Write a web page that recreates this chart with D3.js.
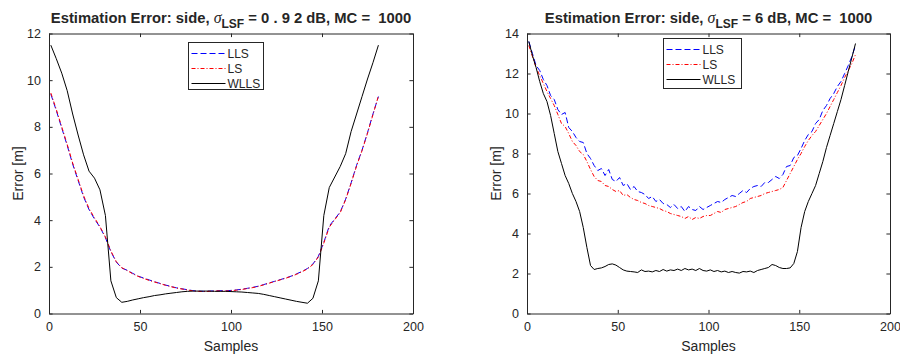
<!DOCTYPE html>
<html>
<head>
<meta charset="utf-8">
<script src="https://cdn.jsdelivr.net/npm/d3@7"></script>
<style>
  html, body { margin: 0; padding: 0; background: #fff; }
  svg { display: block; }
  text { font-family: "Liberation Sans", Arial, Helvetica, sans-serif; fill: #262626; white-space: pre; }
</style>
</head>
<body>
<svg id="chart" width="900" height="358"></svg>
<script>
// ---------------- DATA ----------------
const seriesNames = ["LLS", "LS", "WLLS"];
const xTicks = [0, 50, 100, 150, 200];
const yTicksLeft = [0, 2, 4, 6, 8, 10, 12];
const yTicksRight = [0, 2, 4, 6, 8, 10, 12, 14];

// Left panel: samples 1..181 every 3rd sample
const samplesLeft = d3.range(1, 182, 3);
const llsLeft = [9.40, 8.70, 7.95, 7.20, 6.40, 5.70, 5.00, 4.45, 4.05, 3.70, 3.25, 2.65, 2.20, 1.95, 1.85, 1.72, 1.60, 1.52, 1.44, 1.36,
  1.29, 1.22, 1.16, 1.10, 1.06, 1.02, 0.98, 0.96, 0.95, 0.96, 0.97, 0.98, 0.97, 0.99, 1.01, 1.04, 1.08, 1.12, 1.17, 1.24,
  1.31, 1.38, 1.45, 1.52, 1.60, 1.70, 1.80, 1.93, 2.12, 2.45, 3.05, 3.75, 4.05, 4.35, 4.90, 5.60, 6.35, 7.00, 7.75, 8.55, 9.30];
const lsLeft = [9.45, 8.75, 8.00, 7.25, 6.45, 5.75, 5.05, 4.50, 4.10, 3.72, 3.28, 2.68, 2.22, 1.96, 1.84, 1.70, 1.59, 1.50, 1.42, 1.35,
  1.28, 1.21, 1.15, 1.09, 1.05, 1.01, 0.97, 0.95, 0.94, 0.95, 0.96, 0.97, 0.96, 0.98, 1.00, 1.03, 1.07, 1.11, 1.16, 1.23,
  1.30, 1.37, 1.44, 1.51, 1.59, 1.68, 1.79, 1.91, 2.10, 2.42, 3.02, 3.70, 4.02, 4.32, 4.88, 5.58, 6.32, 6.98, 7.72, 8.52, 9.32];
const wllsLeft = [11.50, 10.92, 10.30, 9.55, 8.55, 7.65, 6.80, 6.10, 5.80, 5.30, 4.20, 1.40, 0.68, 0.48, 0.52, 0.58, 0.63, 0.68, 0.72, 0.77,
  0.80, 0.84, 0.87, 0.90, 0.93, 0.95, 0.96, 0.96, 0.96, 0.96, 0.95, 0.95, 0.95, 0.94, 0.93, 0.92, 0.90, 0.88, 0.86, 0.82,
  0.77, 0.72, 0.67, 0.62, 0.57, 0.52, 0.48, 0.44, 0.65, 1.40, 4.20, 5.40, 5.85, 6.30, 6.85, 7.80, 8.55, 9.30, 10.05, 10.75, 11.50];

// Right panel: samples 1..181 every 2nd sample
const samplesRight = d3.range(1, 182, 2);
const llsRight = [13.60, 13.00, 12.40, 12.15, 11.70, 11.40, 10.90, 10.70, 10.20, 9.95, 10.05, 9.30, 9.10, 8.80, 8.60, 8.55, 8.00, 7.75, 7.40, 7.15,
  7.25, 6.90, 7.20, 6.70, 6.60, 6.80, 6.40, 6.50, 6.20, 6.35, 6.10, 6.05, 5.95, 5.75, 5.85, 5.60, 5.70, 5.50, 5.45, 5.30,
  5.45, 5.25, 5.35, 5.10, 5.35, 5.20, 5.15, 5.35, 5.20, 5.30, 5.40, 5.50, 5.60, 5.55, 5.70, 5.80, 5.90, 5.85, 6.00, 6.15,
  6.05, 6.25, 6.35, 6.40, 6.35, 6.55, 6.55, 6.70, 6.85, 6.75, 6.95, 7.35, 7.40, 7.80, 7.90, 8.25, 8.65, 8.95, 9.10, 9.50,
  9.70, 10.15, 10.40, 10.75, 11.00, 11.35, 11.60, 12.00, 12.40, 12.85, 13.40];
const lsRight = [13.40, 12.85, 12.30, 11.90, 11.50, 11.10, 10.75, 10.40, 9.95, 9.50, 9.35, 9.00, 8.60, 8.40, 8.10, 7.95, 7.60, 7.20, 6.85, 6.65,
  6.60, 6.40, 6.35, 6.20, 6.10, 6.15, 5.90, 5.95, 5.80, 5.70, 5.65, 5.55, 5.50, 5.40, 5.35, 5.30, 5.25, 5.15, 5.10, 5.00,
  4.95, 4.90, 4.85, 4.75, 4.85, 4.70, 4.80, 4.75, 4.85, 4.90, 4.90, 5.00, 5.10, 5.05, 5.20, 5.25, 5.30, 5.35, 5.45, 5.55,
  5.60, 5.75, 5.80, 5.85, 5.90, 6.00, 6.05, 6.10, 6.15, 6.20, 6.30, 6.65, 7.00, 7.35, 7.70, 8.00, 8.35, 8.65, 8.90, 9.10,
  9.40, 9.70, 10.00, 10.35, 10.70, 11.05, 11.40, 11.80, 12.15, 12.50, 12.95];
const wllsRight = [13.60, 12.90, 12.30, 11.60, 11.00, 10.60, 9.90, 9.00, 8.10, 7.50, 6.90, 6.50, 6.00, 5.60, 5.10, 4.30, 3.30, 2.40, 2.20, 2.25,
  2.28, 2.35, 2.45, 2.48, 2.42, 2.30, 2.18, 2.12, 2.10, 2.08, 2.05, 2.18, 2.10, 2.12, 2.08, 2.15, 2.10, 2.20, 2.12, 2.18,
  2.15, 2.22, 2.15, 2.25, 2.18, 2.22, 2.15, 2.25, 2.15, 2.12, 2.18, 2.10, 2.15, 2.08, 2.12, 2.05, 2.10, 2.05, 2.02, 2.10,
  2.08, 2.12, 2.05, 2.15, 2.20, 2.25, 2.30, 2.45, 2.40, 2.30, 2.25, 2.25, 2.28, 2.50, 3.10, 4.30, 5.10, 5.60, 6.00, 6.40,
  7.00, 7.60, 8.30, 8.90, 9.50, 10.10, 10.70, 11.40, 12.10, 12.80, 13.50];

// ---------------- DRAW ----------------
const svg = d3.select("#chart");
svg.append("rect").attr("width", 900).attr("height", 358).attr("fill", "#fff");

const styles = {
  LLS: { color: "#0000ff", dash: "6,3" },
  LS: { color: "#ff0000", dash: "4,2,1,2" },
  WLLS: { color: "#000000", dash: null }
};
const frameColor = "#262626";

function panel(opts) {
  const { left, right, top, bottom, yMax, yTicks, samples, series, title, legend } = opts;
  const x = d3.scaleLinear().domain([0, 200]).range([left, right]);
  const y = d3.scaleLinear().domain([0, yMax]).range([bottom, top]);
  const g = svg.append("g");

  const clipId = "clip" + Math.round(left);
  svg.append("clipPath").attr("id", clipId).append("rect")
    .attr("x", left).attr("y", top).attr("width", right - left).attr("height", bottom - top);
  const lines = g.append("g").attr("clip-path", `url(#${clipId})`);
  seriesNames.forEach(name => {
    const vals = series[name];
    const pts = samples.slice(0, vals.length).map((s, i) => [s, vals[i]]);
    const line = d3.line().x(d => x(d[0])).y(d => y(d[1]));
    lines.append("path").datum(pts)
      .attr("d", line).attr("fill", "none")
      .attr("stroke", styles[name].color).attr("stroke-width", 1)
      .attr("stroke-dasharray", styles[name].dash)
      .attr("stroke-linejoin", "round");
  });

  const tl = 3.6;
  const ax = g.append("g").attr("transform", `translate(0,${bottom})`)
    .call(d3.axisBottom(x).tickValues(xTicks).tickSizeInner(-tl).tickSizeOuter(0).tickPadding(9));
  const axT = g.append("g").attr("transform", `translate(0,${top})`)
    .call(d3.axisTop(x).tickValues(xTicks).tickSizeInner(-tl).tickSizeOuter(0).tickFormat(""));
  const ay = g.append("g").attr("transform", `translate(${left},0)`)
    .call(d3.axisLeft(y).tickValues(yTicks).tickSizeInner(-tl).tickSizeOuter(0).tickPadding(8));
  const ayR = g.append("g").attr("transform", `translate(${right},0)`)
    .call(d3.axisRight(y).tickValues(yTicks).tickSizeInner(-tl).tickSizeOuter(0).tickFormat(""));
  [ax, axT, ay, ayR].forEach(a => {
    a.selectAll("path").attr("stroke", frameColor).attr("stroke-width", 1);
    a.selectAll("line").attr("stroke", frameColor).attr("stroke-width", 1);
    a.selectAll("text").attr("font-family", '"Liberation Sans", Arial, sans-serif')
      .attr("font-size", 12.5).attr("fill", frameColor);
  });

  g.append("text").attr("x", (left + right) / 2).attr("y", 351)
    .attr("text-anchor", "middle").attr("font-size", 14).text("Samples");
  g.append("text").attr("transform", `translate(${left - 26},${(top + bottom) / 2}) rotate(-90)`)
    .attr("text-anchor", "middle").attr("font-size", 14).text("Error [m]");

  const t = g.append("text").attr("x", (left + right) / 2).attr("y", 22.5)
    .attr("text-anchor", "middle").attr("font-size", 14.8).attr("font-weight", "bold").attr("fill", "#000");
  t.append("tspan").text("Estimation Error: side, ");
  t.append("tspan").attr("font-family", '"Liberation Serif", "Times New Roman", serif')
    .attr("font-style", "italic").attr("font-weight", "normal").attr("font-size", 16).text("\u03C3");
  t.append("tspan").attr("dy", 5).attr("font-size", 12).text("LSF");
  t.append("tspan").attr("dy", -5).text(title);

  const lg = g.append("g");
  lg.append("rect").attr("x", legend.x).attr("y", legend.y).attr("width", legend.w).attr("height", legend.h)
    .attr("fill", "#fff").attr("stroke", frameColor).attr("stroke-width", 1);
  seriesNames.forEach((name, i) => {
    const cy = legend.y + 11 + i * 15;
    lg.append("line").attr("x1", legend.x + 3).attr("x2", legend.x + 37).attr("y1", cy).attr("y2", cy)
      .attr("stroke", styles[name].color).attr("stroke-width", 1).attr("stroke-dasharray", styles[name].dash);
    lg.append("text").attr("x", legend.x + 39).attr("y", cy).attr("dy", "0.35em")
      .attr("font-size", 12).attr("fill", "#000").text(name);
  });
}

panel({
  left: 49, right: 413, top: 33.5, bottom: 313.5, yMax: 12, yTicks: yTicksLeft,
  samples: samplesLeft, series: { LLS: llsLeft, LS: lsLeft, WLLS: wllsLeft },
  title: " = 0 . 9 2 dB, MC =  1000",
  legend: { x: 188.5, y: 42.5, w: 75, h: 47 }
});
panel({
  left: 527, right: 890, top: 33.5, bottom: 313.5, yMax: 14, yTicks: yTicksRight,
  samples: samplesRight, series: { LLS: llsRight, LS: lsRight, WLLS: wllsRight },
  title: " = 6 dB, MC =  1000",
  legend: { x: 663.5, y: 38.5, w: 78, h: 50 }
});
</script>
</body>
</html>
